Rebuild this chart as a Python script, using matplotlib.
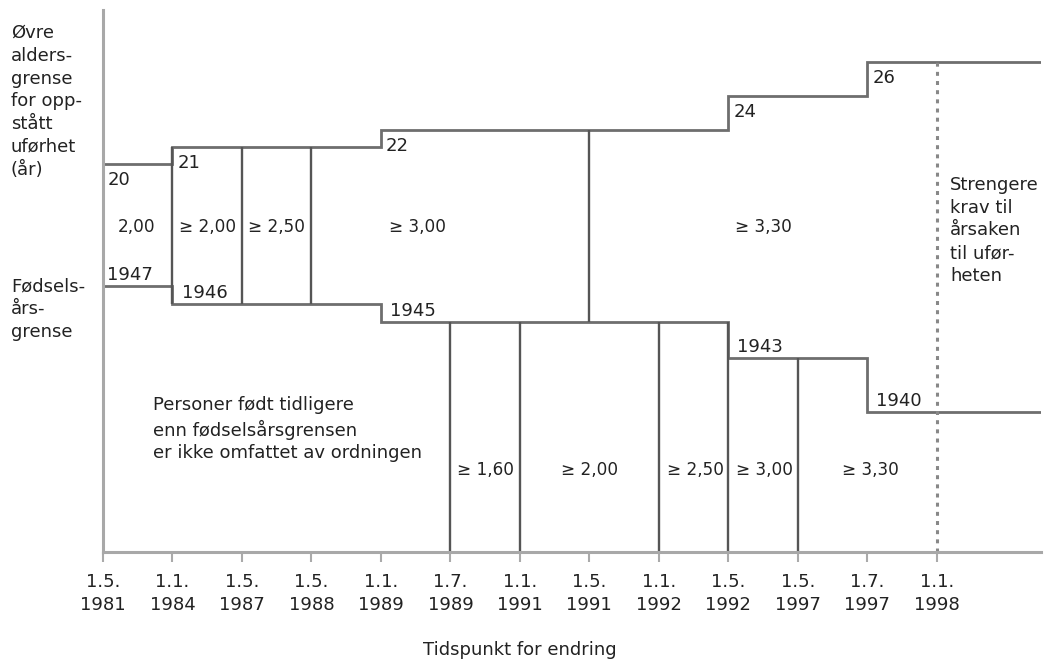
import numpy as np
import matplotlib.pyplot as plt

# tidspunkt for endring (kategorisk akse, jevnt fordelt)
dates = ["1.5.\n1981", "1.1.\n1984", "1.5.\n1987", "1.5.\n1988", "1.1.\n1989",
         "1.7.\n1989", "1.1.\n1991", "1.5.\n1991", "1.1.\n1992", "1.5.\n1992",
         "1.5.\n1997", "1.7.\n1997", "1.1.\n1998"]

# øvre aldersgrense (år) og når den endres
age_idx = [0, 1, 4, 9, 11]
ages = [20, 21, 22, 24, 26]

# fødselsårsgrense og når den endres
birth_idx = [0, 1, 4, 9, 11]
birth_years = [1947, 1946, 1945, 1943, 1940]

# krav i øvre felt (personer innenfor fødselsårsgrensen)
upper_div = [1, 2, 3, 7]
upper_req = ["2,00", "≥ 2,00", "≥ 2,50", "≥ 3,00", "≥ 3,30"]
upper_req_x = [0.48, 1.5, 2.5, 4.52, 9.5]

# krav i nedre felt
lower_div = [5, 6, 8, 9, 10]
lower_req = ["≥ 1,60", "≥ 2,00", "≥ 2,50", "≥ 3,00", "≥ 3,30"]
lower_req_x = [5.5, 7.0, 8.53, 9.52, 11.05]

stricter_idx = 12
x_end = 13.5


def age_lvl(a):
    return np.asarray(a, dtype=float)


def year_lvl(y):
    return 12.82 - (1947 - np.asarray(y, dtype=float)) * 18 / 17


def value_at(idx, vals, i, side="right"):
    k = np.searchsorted(idx, i, side=side) - 1
    return vals[max(k, 0)]


plt.rcParams['font.family'] = ['DejaVu Sans']
fig = plt.figure(figsize=(10.45, 6.6), dpi=100)
ax = fig.add_axes([103 / 1045, 108 / 660, 938 / 1045, 542 / 660])
ax.set_xlim(0, x_end)
ax.set_ylim(-2.82, 29.06)

line_c = "#6e6e6e"
div_c = "#555555"
txt_c = "#222222"

# trappelinjer
ax.step(age_idx + [x_end], list(age_lvl(ages)) + [age_lvl(ages[-1])],
        where="post", color=line_c, lw=2.0, solid_joinstyle="miter")
ax.step(birth_idx + [x_end], list(year_lvl(birth_years)) + [year_lvl(birth_years[-1])],
        where="post", color=line_c, lw=2.0, solid_joinstyle="miter")

# skillelinjer øvre felt
for i in upper_div:
    lo = year_lvl(value_at(birth_idx, birth_years, i))
    hi = age_lvl(value_at(age_idx, ages, i))
    ax.vlines(i, lo, hi, color=div_c, lw=1.7)

# skillelinjer nedre felt
for i in lower_div:
    hi = year_lvl(value_at(birth_idx, birth_years, i, side="left"))
    ax.vlines(i, -2.82, hi, color=div_c, lw=1.7)

# strengere krav (stiplet)
ax.vlines(stricter_idx, -2.82, age_lvl(value_at(age_idx, ages, stricter_idx)),
          color="#888888", lw=2.2, linestyles=(0, (1.3, 1.7)))

fs = 13
fs_req = 12.2
ls = 1.34
for i, a in zip(age_idx, ages):
    ax.text(i + 0.07, age_lvl(a) - 0.92, str(a), fontsize=fs, color=txt_c,
            ha="left", va="center")
for i, y in zip(birth_idx, birth_years):
    dx = 0.06 if i == 0 else 0.13
    ax.text(i + dx, year_lvl(y) + 0.68, str(y), fontsize=fs, color=txt_c,
            ha="left", va="center")

for x, t in zip(upper_req_x, upper_req):
    ax.text(x, 16.29, t, fontsize=fs_req, color=txt_c, ha="center", va="center")
for x, t in zip(lower_req_x, lower_req):
    ax.text(x, 2.0, t, fontsize=fs_req, color=txt_c, ha="center", va="center")

ax.text(0.72, 6.35, "Personer født tidligere\nenn fødselsårsgrensen\ner ikke omfattet av ordningen",
        fontsize=fs, color=txt_c, ha="left", va="top", linespacing=ls)
ax.text(12.19, 19.3, "Strengere\nkrav til\nårsaken\ntil ufør-\nheten",
        fontsize=fs, color=txt_c, ha="left", va="top", linespacing=ls)

fig.text(11 / 1045, 1 - 24 / 660, "Øvre\nalders-\ngrense\nfor opp-\nstått\nuførhet\n(år)",
         fontsize=fs, color=txt_c, ha="left", va="top", linespacing=ls)
fig.text(11 / 1045, 1 - 277 / 660, "Fødsels-\nårs-\ngrense",
         fontsize=fs, color=txt_c, ha="left", va="top", linespacing=ls)
fig.text(520 / 1045, 10 / 660, "Tidspunkt for endring", fontsize=fs, color=txt_c,
         ha="center", va="center")

ax.set_xticks(range(len(dates)))
ax.set_xticklabels(dates, fontsize=fs, color=txt_c)
for lab in ax.get_xticklabels():
    lab.set_linespacing(1.36)
ax.set_yticks([])
ax.tick_params(axis="x", length=7, width=1.5, color="#aaaaaa", pad=8)
for s in ["top", "right"]:
    ax.spines[s].set_visible(False)
for s in ["left", "bottom"]:
    ax.spines[s].set_color("#a8a8a8")
    ax.spines[s].set_linewidth(2.2)

fig.savefig("out.png", dpi=100)
